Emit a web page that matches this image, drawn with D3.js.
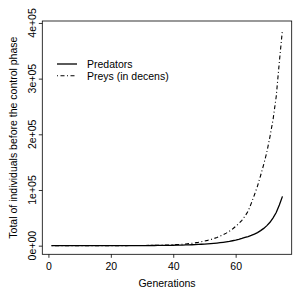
<!DOCTYPE html>
<html>
<head>
<meta charset="utf-8">
<script src="https://cdn.jsdelivr.net/npm/d3@7"></script>
<style>
  body { margin: 0; background: #fff; }
  text { font-family: "Liberation Sans", Arial, sans-serif; fill: #000; }
</style>
</head>
<body>
<div id="body"></div>
<script>
var generations = d3.range(1, 76);

// predators, generation 1..75
var predators = [
  10, 10, 11, 12, 13, 14, 15, 16, 17, 18,
  19, 21, 23, 25, 27, 30, 33, 37, 41, 46,
  52, 58, 66, 75, 85, 95, 110, 125, 145, 165,
  190, 220, 255, 295, 340, 390, 450, 520, 600, 700,
  820, 950, 1100, 1250, 1450, 1650, 1900, 2200, 2500, 2850,
  3250, 3700, 4150, 4700, 5300, 6000, 6800, 7700, 8800, 10000,
  11400, 13000, 14800, 16400, 18400, 20800, 23500, 27000, 31000, 36000,
  42000, 50000, 59500, 73000, 88500
];

// preys (in decens), generation 1..75
var preys = [
  10, 10, 11, 12, 13, 14, 15, 16, 17, 19,
  21, 23, 26, 29, 33, 37, 42, 48, 55, 63,
  73, 85, 99, 116, 136, 160, 187, 220, 260, 305,
  360, 425, 500, 590, 700, 820, 970, 1140, 1340, 1580,
  1870, 2200, 2600, 3050, 3600, 4250, 5000, 5900, 7000, 8200,
  9500, 11000, 12700, 14700, 17000, 19500, 22500, 26000, 30000, 34500,
  39500, 45500, 53000, 62000, 76000, 91000, 107000, 126000, 146000, 168000,
  196000, 227000, 268000, 330000, 388000
];

var yTicks = [0, 100000, 200000, 300000, 400000];
var xTicks = [0, 20, 40, 60];
var legendLabels = ["Predators", "Preys (in decens)"];

var width = 297;
var height = 297;
var plotLeft = 42.3, plotRight = 291.7, plotTop = 21, plotBottom = 254.3;

var svg = d3.select("#body").append("svg")
  .attr("width", width)
  .attr("height", height);

// R style 4% padding
function padded(ext) {
  var p = (ext[1] - ext[0]) * 0.04;
  return [ext[0] - p, ext[1] + p];
}

var xScale = d3.scaleLinear()
  .domain(padded(d3.extent(generations)))
  .range([plotLeft, plotRight]);

var yScale = d3.scaleLinear()
  .domain(padded([0, d3.max(preys.concat(predators))]))
  .range([plotBottom, plotTop]);

function sci(v) {
  if (v === 0) return "0e+00";
  var e = Math.floor(Math.log10(v));
  var m = Math.round(v / Math.pow(10, e));
  return m + "e+" + (e < 10 ? "0" + e : e);
}

var fontSize = 10.5;

// y axis
var yAxis = svg.append("g")
  .attr("transform", "translate(" + plotLeft + ",0)")
  .call(d3.axisLeft(yScale).tickValues(yTicks).tickSize(3.5).tickFormat(""));
yAxis.select(".domain").remove();
yAxis.selectAll("line").attr("stroke", "#000").attr("stroke-width", 0.8);

svg.append("g").selectAll("text")
  .data(yTicks)
  .enter()
  .append("text")
  .attr("transform", function (d) {
    return "translate(31.5," + yScale(d) + ") rotate(-90)";
  })
  .attr("text-anchor", "middle")
  .attr("dominant-baseline", "central")
  .attr("font-size", fontSize)
  .text(sci);

// x axis
var xAxis = svg.append("g")
  .attr("transform", "translate(0," + plotBottom + ")")
  .call(d3.axisBottom(xScale).tickValues(xTicks).tickSize(3.5).tickPadding(5));
xAxis.select(".domain").remove();
xAxis.selectAll("line").attr("stroke", "#000").attr("stroke-width", 0.8);
xAxis.selectAll("text").attr("font-size", fontSize).attr("fill", "#000")
  .style("font-family", "Liberation Sans, Arial, sans-serif");

// box
svg.append("rect")
  .attr("x", plotLeft)
  .attr("y", plotTop)
  .attr("width", plotRight - plotLeft)
  .attr("height", plotBottom - plotTop)
  .attr("fill", "none")
  .attr("stroke", "#000")
  .attr("stroke-width", 0.8);

// axis titles
svg.append("text")
  .attr("x", (plotLeft + plotRight) / 2)
  .attr("y", 283)
  .attr("text-anchor", "middle")
  .attr("dominant-baseline", "central")
  .attr("font-size", fontSize)
  .text("Generations");

svg.append("text")
  .attr("transform", "translate(12.5," + (plotTop + plotBottom) / 2 + ") rotate(-90)")
  .attr("text-anchor", "middle")
  .attr("dominant-baseline", "central")
  .attr("font-size", fontSize)
  .text("Total of individuals before the control phase");

// lines
var line = d3.line()
  .x(function (d, i) { return xScale(generations[i]); })
  .y(function (d) { return yScale(d); });

svg.append("path")
  .datum(predators)
  .attr("d", line)
  .attr("fill", "none")
  .attr("stroke", "#000")
  .attr("stroke-width", 1.3);

svg.append("path")
  .datum(preys)
  .attr("d", line)
  .attr("fill", "none")
  .attr("stroke", "#000")
  .attr("stroke-width", 1.1)
  .attr("stroke-dasharray", "1,2.5,4,2.5");

// legend
var dashes = [null, "1,2.5,4,2.5"];
var legend = svg.append("g");
legend.selectAll("line")
  .data(legendLabels)
  .enter()
  .append("line")
  .attr("x1", 57)
  .attr("x2", 77)
  .attr("y1", function (d, i) { return 64 + i * 11.7; })
  .attr("y2", function (d, i) { return 64 + i * 11.7; })
  .attr("stroke", "#000")
  .attr("stroke-width", function (d, i) { return i === 0 ? 1.3 : 1.1; })
  .attr("stroke-dasharray", function (d, i) { return dashes[i]; });

legend.selectAll("text")
  .data(legendLabels)
  .enter()
  .append("text")
  .attr("x", 87)
  .attr("y", function (d, i) { return 64 + i * 11.7; })
  .attr("dominant-baseline", "central")
  .attr("font-size", fontSize)
  .text(function (d) { return d; });
</script>
</body>
</html>
